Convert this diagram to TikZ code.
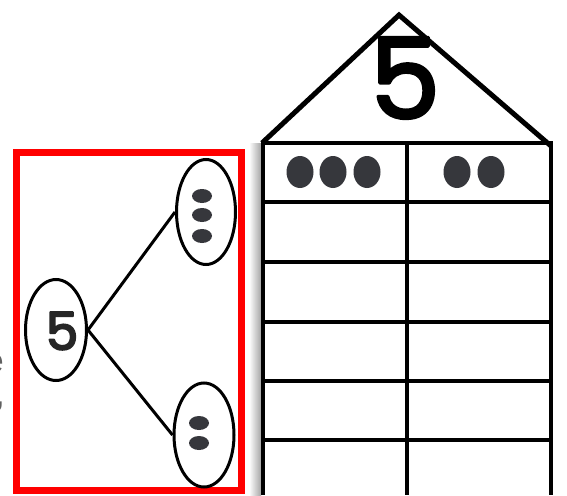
\documentclass[tikz,border=0pt]{standalone}
\usepackage{fontspec}
\setmainfont{Liberation Sans}
\newfontfamily\popfont{Poppins}
\newcommand{\heavytext}[2]{\special{pdf:literal direct 2 Tr #1 w 1 j}#2\special{pdf:literal direct 0 Tr}}
\usetikzlibrary{shapes.geometric}
\definecolor{dotgray}{HTML}{36373C}
\definecolor{fraggray}{HTML}{606060}
\tikzset{
  bubble/.style={draw=black, line width=3pt, ellipse, inner sep=0pt},
  branch/.style={draw=black, line width=3pt},
  dot/.style={fill=dotgray, ellipse, inner sep=0pt, draw=none},
  gridline/.style={draw=black, line width=4.5pt},
  frame/.style={draw=red, line width=7pt},
  frag/.style={text=fraggray, font=\fontsize{34}{34}\selectfont, inner sep=0pt}
}
\begin{document}
\begin{tikzpicture}[x=1pt,y=-1pt]
\useasboundingbox (0,0) rectangle (567,495);
\clip (0,0) rectangle (567,495);
\fill[white] (0,0) rectangle (567,495);

% cut-off text fragments at left edge
\node[frag, anchor=base east] (fragE) at (4,372) {e};
\node[frag, anchor=base east] (fragO) at (5,405) {o,};

% red frame
\draw[frame] (16,152) rectangle (241,490);

% number bond
\node[bubble, minimum width=61pt, minimum height=101pt] (whole) at (56,330) {};
\node[font=\popfont\fontsize{52}{52}\selectfont, text=black!85, inner sep=0pt] (wholetxt) at (62,331) {\heavytext{1.8}{5}};
\node[bubble, minimum width=59pt, minimum height=105pt] (top) at (206,212) {};
\node[bubble, minimum width=60pt, minimum height=104pt] (bot) at (204,435) {};
\draw[branch] (whole.east) -- (top.west);
\draw[branch] (whole.east) -- (bot.west);
\node[dot, minimum width=20pt, minimum height=14pt] (t1) at (202,196) {};
\node[dot, minimum width=20pt, minimum height=14pt] (t2) at (202,215) {};
\node[dot, minimum width=20pt, minimum height=14pt] (t3) at (202,236) {};
\node[dot, minimum width=20pt, minimum height=14pt] (b1) at (199,423) {};
\node[dot, minimum width=20pt, minimum height=14pt] (b2) at (199,443) {};

% number house
\shade[left color=white, right color=black!35] (249,143) rectangle (261,495);
\coordinate (apex) at (399,15);
\coordinate (roofL) at (262,143);
\coordinate (roofR) at (551,146);
\draw[line width=5pt, line join=miter] (roofL) -- (apex) -- (roofR);
\node[font=\popfont\fontsize{112}{112}\selectfont, inner sep=0pt] (bigfive) at (405,78) {\heavytext{3}{5}};
\draw[gridline] (263,495) -- (263,143) -- (551,143) -- (551,495);
\draw[gridline] (407,143) -- (407,495);
\foreach \yy in {202,262,322,381,440} {
  \draw[gridline] (263,\yy) -- (551,\yy);
}
\foreach \xx/\nm in {300/c1,333/c2,367/c3,457/c4,491/c5} {
  \node[dot, minimum width=27pt, minimum height=32pt] (\nm) at (\xx,172) {};
}
\end{tikzpicture}
\end{document}
